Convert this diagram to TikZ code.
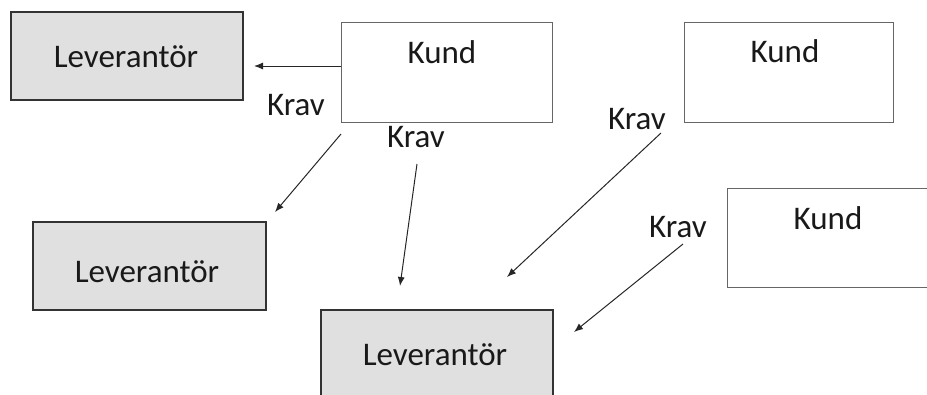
\documentclass[tikz,border=0pt]{standalone}
\usepackage{fontspec}
\setmainfont{Carlito}
\usetikzlibrary{arrows.meta}
\begin{document}
\begin{tikzpicture}[x=1pt,y=-1pt,
  levbox/.style={draw=black!80,line width=1.6pt,fill=black!12,inner sep=0pt,anchor=north west},
  kundbox/.style={draw=black!60,line width=1.2pt,fill=white,inner sep=0pt,anchor=north west},
  txt/.style={font=\fontsize{33}{36}\selectfont,text=black!90,inner sep=0pt,anchor=base},
  arr/.style={draw=black!85,line width=1pt,-{Latex[length=9pt,width=7pt]}}]
\useasboundingbox (0,0) rectangle (927,394);
% boxes
\node[levbox,minimum width=232pt,minimum height=88pt] (lev1) at (10,11) {};
\node[levbox,minimum width=233pt,minimum height=88pt] (lev2) at (32,221) {};
\node[levbox,minimum width=232pt,minimum height=100pt] (lev3) at (320,309) {};
\node[kundbox,minimum width=211pt,minimum height=100pt] (kund1) at (341,22) {};
\node[kundbox,minimum width=209pt,minimum height=100pt] (kund2) at (684,22) {};
\node[kundbox,minimum width=220pt,minimum height=99pt] (kund3) at (727,188) {};
% texts
\node[txt] (tl1) at (126,67) {Leverantör};
\node[txt] (tl2) at (147,282) {Leverantör};
\node[txt] (tl3) at (435,365) {Leverantör};
\node[txt] (tk1) at (442,63) {Kund};
\node[txt] (tk2) at (785,62) {Kund};
\node[txt] (tk3) at (828,229) {Kund};
\node[txt] (kr1) at (296,115) {Krav};
\node[txt] (kr2) at (416,147) {Krav};
\node[txt] (kr3) at (637,129) {Krav};
\node[txt] (kr4) at (678,237) {Krav};
% arrow end points
\coordinate (a1s) at (341,66);  \coordinate (a1e) at (254,66);
\coordinate (a2s) at (341,134); \coordinate (a2e) at (275,212);
\coordinate (a3s) at (417,164); \coordinate (a3e) at (400,286);
\coordinate (a4s) at (661,133); \coordinate (a4e) at (507,277);
\coordinate (a5s) at (683,244); \coordinate (a5e) at (574,332);
\draw[arr] (a1s) -- (a1e);
\draw[arr] (a2s) -- (a2e);
\draw[arr] (a3s) -- (a3e);
\draw[arr] (a4s) -- (a4e);
\draw[arr] (a5s) -- (a5e);
\end{tikzpicture}
\end{document}
